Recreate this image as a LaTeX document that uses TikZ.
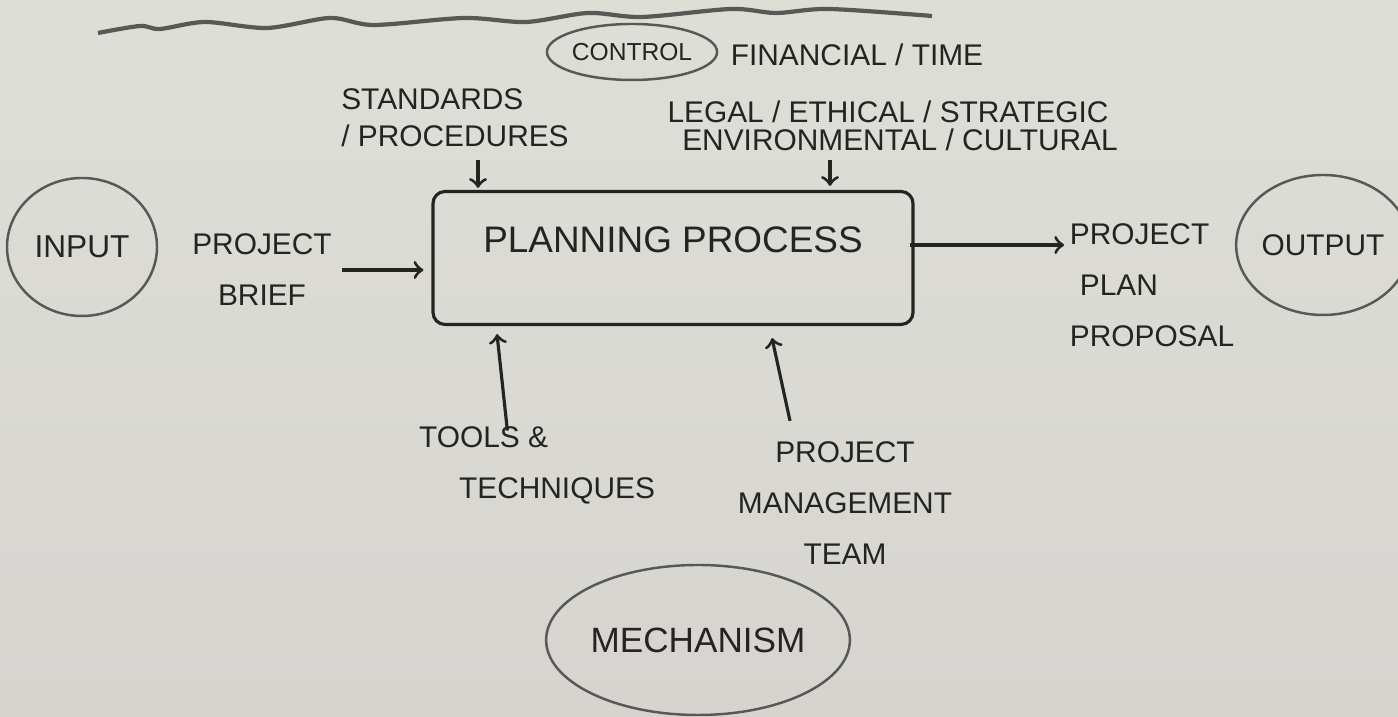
\documentclass[tikz,border=0pt]{standalone}
\usepackage{fontspec}
\setmainfont{Liberation Sans}
\usetikzlibrary{shapes.geometric}

\definecolor{boardtop}{RGB}{221,223,215}
\definecolor{boardlow}{RGB}{215,212,208}
\definecolor{marker}{RGB}{36,36,34}
\definecolor{pencil}{RGB}{88,88,86}

\tikzstyle{element}=[rectangle, inner sep=0.05cm, text=marker,
                     align=center, font=\fontsize{8.5}{14.5}\selectfont]
\tikzstyle{process}=[rectangle, draw=marker, line width=0.9pt,
                     rounded corners=0.12cm, minimum width=4.8cm,
                     minimum height=1.33cm, text depth=0.36cm,
                     text=marker, font=\fontsize{10.5}{12}\selectfont]
\tikzstyle{bubble}=[ellipse, draw=pencil, line width=0.7pt,
                    text=marker, inner sep=0pt]
\tikzstyle{flow}=[->, line width=0.9pt, draw=marker]

\begin{document}
\begin{tikzpicture}

  %%%%%%%%%%%%%%%%%%%%%%%%%%%%%%
  % board
  \shade[top color=boardtop, bottom color=boardlow] (0, 0) rectangle (13.98, 7.17);
  \useasboundingbox (0, 0) rectangle (13.98, 7.17);
  \draw[pencil, line width=1.2pt] plot[smooth] coordinates {(0.98, 6.84) (1.40, 6.91)
    (1.60, 6.88) (2.05, 6.95) (2.67, 6.89) (3.30, 6.99) (3.74, 6.92) (4.64, 6.99)
    (5.26, 6.95) (5.88, 7.04) (6.42, 7.00) (7.31, 7.08) (7.76, 7.04) (8.29, 7.08)
    (9.32, 7.01)};

  %%%%%%%%%%%%%%%%%%%%%%%%%%%%%%
  % nodes
  % control
  \node (control) at (6.32, 6.65) [bubble, minimum width=1.46cm, minimum height=0.56cm,
    font=\fontsize{7}{8}\selectfont] {CONTROL};

  \node (fin) at (8.57, 6.62) [element] {FINANCIAL / TIME};

  \node (legal) at (8.88, 6.05) [element] {LEGAL / ETHICAL / STRATEGIC};

  \node (env) at (9.00, 5.77) [element] {ENVIRONMENTAL / CULTURAL};

  \node (std) at (4.55, 5.99) [element, align=left,
    font=\fontsize{8.5}{10.5}\selectfont] {STANDARDS\\/ PROCEDURES};

  % input / process / output
  \node (input) at (0.82, 4.70) [bubble, minimum width=1.5cm, minimum height=1.38cm,
    font=\fontsize{9}{10}\selectfont] {INPUT};

  \node (brief) at (2.62, 4.47) [element] {PROJECT\\BRIEF};

  \node (proc) at (6.73, 4.59) [process] {PLANNING PROCESS};

  \node (plan) at (11.52, 4.32) [element, align=left] {PROJECT\\\hspace{0.1cm}PLAN\\PROPOSAL};

  \node (output) at (13.23, 4.72) [bubble, minimum width=1.5cm, minimum height=1.4cm,
    font=\fontsize{8.5}{10}\selectfont] {OUTPUT};

  % mechanism
  \node (tools) at (5.37, 2.52) [element, align=left] {TOOLS \&\\\hspace{0.4cm}TECHNIQUES};

  \node (team) at (8.45, 2.14) [element] {PROJECT\\MANAGEMENT\\TEAM};

  \node (mech) at (6.98, 0.77) [bubble, minimum width=2.8cm, minimum height=1.5cm,
    font=\fontsize{10}{12}\selectfont] {MECHANISM};

  \coordinate (stdfoot) at (4.78, 5.57);
  \coordinate (envfoot) at (8.30, 5.57);

  %%%%%%%%%%%%%%%%%%%%%%%%%%%%%%
  % links
  \draw [flow, shorten <=0.05cm, shorten >=0.08cm] (brief.east) to (proc.west |- brief.east);

  \draw [flow, shorten <=-0.05cm] ([yshift=0.13cm]proc.east) to ([yshift=0.13cm]proc.east -| plan.west);

  \draw [flow] (stdfoot) to ([yshift=0.02cm]stdfoot |- proc.north);

  \draw [flow] (envfoot) to ([yshift=0.04cm]envfoot |- proc.north);

  \draw [flow] ([xshift=0.94cm, yshift=-0.1cm]tools.north west) to ([xshift=-1.76cm, yshift=-0.08cm]proc.south);

  \draw [flow] ([xshift=-0.55cm, yshift=0.15cm]team.north) to ([xshift=0.99cm, yshift=-0.12cm]proc.south);

\end{tikzpicture}
\end{document}
